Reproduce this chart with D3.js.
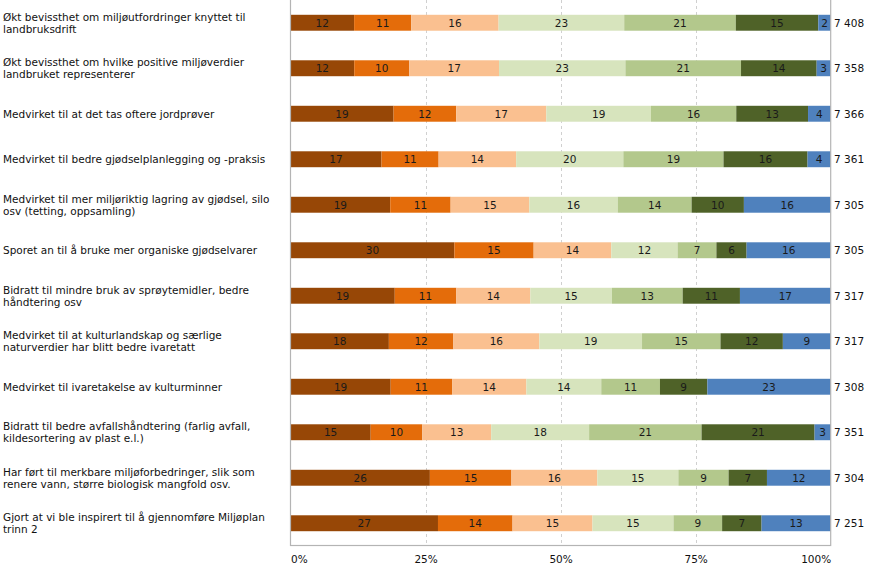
<!DOCTYPE html>
<html>
<head>
<meta charset="utf-8">
<script src="https://cdn.jsdelivr.net/npm/d3@7"></script>
<style>
  html, body { margin: 0; padding: 0; background: #fff; }
  svg { display: block; font-family: "DejaVu Sans", Verdana, sans-serif; }
</style>
</head>
<body>
<svg id="chart" width="870" height="570"></svg>
<script>
// ---- Data ----
const categories = [
  "Økt bevissthet om miljøutfordringer knyttet til\nlandbruksdrift",
  "Økt bevissthet om hvilke positive miljøverdier\nlandbruket representerer",
  "Medvirket til at det tas oftere jordprøver",
  "Medvirket til bedre gjødselplanlegging og -praksis",
  "Medvirket til mer miljøriktig lagring av gjødsel, silo\nosv (tetting, oppsamling)",
  "Sporet an til å bruke mer organiske gjødselvarer",
  "Bidratt til mindre bruk av sprøytemidler, bedre\nhåndtering osv",
  "Medvirket til at kulturlandskap og særlige\nnaturverdier har blitt bedre ivaretatt",
  "Medvirket til ivaretakelse av kulturminner",
  "Bidratt til bedre avfallshåndtering (farlig avfall,\nkildesortering av plast e.l.)",
  "Har ført til merkbare miljøforbedringer, slik som\nrenere vann, større biologisk mangfold osv.",
  "Gjort at vi ble inspirert til å gjennomføre Miljøplan\ntrinn 2"
];
const seriesNames = ["s1", "s2", "s3", "s4", "s5", "s6", "s7"];
const s1 = [11.8, 11.8, 19.1, 16.9, 18.5, 30.4, 19.3, 18.3, 18.6, 14.9, 25.8, 27.3];
const s2 = [10.6, 10.2, 11.6, 10.6, 11.2, 14.7, 11.4, 12.0, 11.4, 9.6, 15.1, 13.8];
const s3 = [16.2, 16.6, 16.7, 14.4, 14.6, 14.4, 13.7, 16.0, 13.8, 12.8, 15.9, 14.8];
const s4 = [23.3, 23.4, 19.4, 19.9, 16.4, 12.3, 15.1, 19.1, 13.9, 18.2, 15.0, 15.0];
const s5 = [20.7, 21.4, 15.8, 18.6, 13.7, 7.2, 13.1, 14.6, 10.9, 20.9, 9.3, 9.0];
const s6 = [15.3, 14.0, 13.3, 15.6, 9.7, 5.6, 10.6, 11.6, 8.8, 21.0, 7.1, 7.3];
const s7 = [2.3, 2.6, 4.2, 4.3, 16.1, 15.6, 16.8, 8.9, 22.9, 3.0, 11.8, 12.8];
const nLabels = ["7 408", "7 358", "7 366", "7 361", "7 305", "7 305", "7 317", "7 317", "7 308", "7 351", "7 304", "7 251"];
const tickValues = [0, 0.25, 0.5, 0.75, 1];
const tickLabels = ["0%", "25%", "50%", "75%", "100%"];
const colors = ["#974706", "#E46C0A", "#FAC090", "#D7E4BD", "#B3C88C", "#4F6228", "#4F81BD"];

// ---- Build table ----
const allSeries = [s1, s2, s3, s4, s5, s6, s7];
const table = categories.map((c, i) => {
  const row = { cat: c };
  seriesNames.forEach((s, j) => row[s] = allSeries[j][i]);
  return row;
});

const stack = d3.stack().keys(seriesNames).offset(d3.stackOffsetExpand);
const stacked = stack(table);

const svg = d3.select("#chart");
const x = d3.scaleLinear().domain([0, 1]).range([290.5, 830.7]);
const y = d3.scaleBand().domain(categories).range([0, 546]).paddingInner(0.65).paddingOuter(0.325);
const plotTop = 0, plotBottom = 545.5;

// gridlines
svg.append("g").selectAll("line")
  .data([0.25, 0.5, 0.75]).join("line")
  .attr("x1", d => Math.round(x(d)) + 0.5).attr("x2", d => Math.round(x(d)) + 0.5)
  .attr("y1", plotTop).attr("y2", plotBottom)
  .attr("stroke", "#D0D0D0").attr("stroke-width", 1).attr("stroke-dasharray", "3,3");

// bars
const layers = svg.append("g").selectAll("g")
  .data(stacked).join("g")
  .attr("fill", (d, i) => colors[i]);

layers.selectAll("rect")
  .data(d => d.map(p => ({ p, key: d.key })))
  .join("rect")
  .attr("x", d => x(d.p[0]))
  .attr("y", d => y(d.p.data.cat))
  .attr("width", d => x(d.p[1]) - x(d.p[0]))
  .attr("height", y.bandwidth());

// segment labels
layers.selectAll("text")
  .data(d => d.map(p => ({ p, key: d.key })))
  .join("text")
  .attr("x", d => (x(d.p[0]) + x(d.p[1])) / 2)
  .attr("y", d => y(d.p.data.cat) + y.bandwidth() / 2)
  .attr("dy", "0.36em")
  .attr("text-anchor", "middle")
  .attr("font-size", "10.5px")
  .attr("fill", "#1a1a1a")
  .text(d => Math.round(d.p.data[d.key]));

// plot border
svg.append("rect")
  .attr("x", 290.5).attr("y", -1)
  .attr("width", 830.7 - 290.5).attr("height", plotBottom + 1)
  .attr("fill", "none").attr("stroke", "#B4B4B4").attr("stroke-width", 1.2);

// category labels
const catG = svg.append("g");
categories.forEach((c, i) => {
  const lines = c.split("\n");
  const cy = y(c) + y.bandwidth() / 2;
  const t = catG.append("text")
    .attr("x", 3)
    .attr("font-size", "10.5px")
    .attr("fill", "#111");
  lines.forEach((ln, k) => {
    t.append("tspan")
      .attr("x", 3)
      .attr("y", cy + (k - (lines.length - 1) / 2) * 12)
      .attr("dy", "0.36em")
      .text(ln);
  });
});

// N labels at right
svg.append("g").selectAll("text")
  .data(categories).join("text")
  .attr("x", 834)
  .attr("y", d => y(d) + y.bandwidth() / 2)
  .attr("dy", "0.36em")
  .attr("font-size", "10.5px")
  .attr("fill", "#111")
  .text((d, i) => nLabels[i]);

// x axis
const axis = d3.axisBottom(x)
  .tickValues(tickValues)
  .tickFormat((d, i) => tickLabels[i])
  .tickSize(0)
  .tickPadding(10);
const ax = svg.append("g").attr("transform", `translate(0,${plotBottom})`).call(axis);
ax.select(".domain").remove();
ax.selectAll("text")
  .attr("font-family", "DejaVu Sans, Verdana, sans-serif")
  .attr("font-size", "10.5px")
  .attr("fill", "#111")
  .attr("text-anchor", (d, i) => i === 0 ? "start" : (i === tickValues.length - 1 ? "end" : "middle"));
</script>
</body>
</html>
